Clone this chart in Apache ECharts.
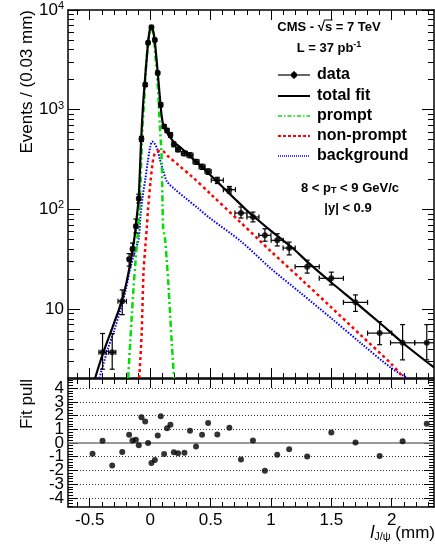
<!DOCTYPE html>
<html><head><meta charset="utf-8">
<script src="https://cdn.jsdelivr.net/npm/echarts@6/dist/echarts.min.js"></script>
<style>html,body{margin:0;padding:0;background:#fff}#c{width:435px;height:550px}</style>
</head><body><div id="c"></div>
<script>
// ---------- data ----------
const dataX = [-0.394,-0.314,-0.231,-0.174,-0.146,-0.118,-0.094,-0.072,-0.041,-0.017,0.011,0.039,0.063,0.088,0.116,0.140,0.168,0.196,0.231,0.284,0.330,0.380,0.430,0.480,0.556,0.656,0.752,0.851,0.950,1.052,1.151,1.300,1.500,1.700,1.900,2.090,2.290];
const dataY = [3.7,3.7,12,31.6,40,68,129,510,1780,4700,6700,5000,2340,1120,680,620,560,450,400,365,350,300,268,240,196,158,92,84,55,49,41,26.7,20.4,11.7,5.75,4.6,4.6];
const dataYLo = [2.5,2.5,8.8,27,35,58,116,480,1720,4600,6560,4880,2270,1070,650,590,530,425,378,345,330,283,252,225,182,146,82,75,48,43,35,23,17.5,9.5,4.4,3.1,3.1];
const dataYHi = [5.7,5.7,15.6,36,46,80,142,540,1840,4800,6840,5120,2410,1170,710,650,590,475,422,385,370,317,284,255,210,170,106,94,64,57,47,31,23.5,13.9,7.5,7.0,7.0];
const dataXErr = [0.03,0.03,0.035,0.013,0.013,0.013,0.013,0.013,0.013,0.013,0.013,0.013,0.013,0.013,0.013,0.013,0.013,0.013,0.018,0.025,0.025,0.025,0.025,0.025,0.05,0.05,0.05,0.05,0.05,0.05,0.05,0.1,0.1,0.1,0.1,0.1,0.1];

const totX = [-0.455,-0.42,-0.38,-0.34,-0.30,-0.26,-0.22,-0.19,-0.16,-0.13,-0.11,-0.095,-0.085,-0.075,-0.06,-0.045,-0.03,-0.015,0.0,0.008,0.02,0.035,0.05,0.065,0.08,0.095,0.11,0.13,0.16,0.2,0.25,0.3,0.35,0.4,0.5,0.6,0.7,0.8,0.9,1.0,1.1,1.2,1.3,1.5,1.7,1.9,2.1,2.35];
const totY = [2.04,2.8,3.9,5.3,7.2,9.8,14,20,31,52,85,130,240,480,1050,1850,3100,5000,6600,6950,6500,5300,3500,2200,1350,870,690,620,540,470,420,370,325,288,220,168,128,98,77,61,49,39,30,18.5,11.7,7.3,4.5,2.6];

const promptX = [-0.182,-0.165,-0.151,-0.138,-0.124,-0.11,-0.094,-0.08,-0.065,-0.05,-0.035,-0.02,-0.005,0.008,0.025,0.045,0.065,0.08,0.091,0.098,0.103,0.108,0.124,0.138,0.151,0.165,0.179,0.198];
const promptY = [2.04,4.6,9,16,27,45,75,180,600,1200,2600,4300,6000,6500,5900,3300,1600,700,430,240,110,65,50,30,18,9,4.6,2.04];

const nonPromptX = [-0.09,-0.07,-0.055,-0.04,-0.028,-0.017,0.003,0.02,0.035,0.05,0.07,0.1,0.15,0.237,0.347,0.5,0.75,1.0,1.25,1.5,1.75,2.0,2.1];
const nonPromptY = [2.04,5.8,23,42,65,102,189,290,355,375,385,385,340,277,213,143,74,38,20,10.4,5.4,2.8,2.04];

const bkgX = [-0.42,-0.35,-0.30,-0.25,-0.20,-0.17,-0.14,-0.12,-0.094,-0.08,-0.06,-0.039,-0.02,0.0,0.017,0.035,0.058,0.08,0.11,0.14,0.2,0.3,0.4,0.5,0.75,1.0,1.25,1.5,1.75,2.0,2.13];
const bkgY = [2.04,4,6,9.5,16,24,33,40,51,87,140,204,300,420,480,460,407,320,240,190,161,128,102,81,48,25.5,14.4,8.1,4.5,2.55,2.04];

const pullX = [-0.477,-0.394,-0.314,-0.231,-0.174,-0.146,-0.118,-0.094,-0.072,-0.041,-0.017,0.011,0.039,0.063,0.088,0.116,0.140,0.168,0.196,0.231,0.284,0.330,0.380,0.430,0.480,0.556,0.656,0.752,0.851,0.950,1.052,1.151,1.300,1.500,1.700,1.900,2.090,2.290];
const pullY = [-0.79,0.16,-1.65,-0.65,0.6,0.18,0.23,-0.16,1.87,1.56,0,-1.46,-1.24,0.55,1.95,-0.8,1.07,1.34,-0.67,-0.75,-0.72,0.89,-0.26,0.6,1.46,0.62,1.12,-1.21,0.18,-2.02,-0.85,-0.45,-0.99,0.77,0.04,-0.94,0.13,1.41];

// ---------- axis ticks ----------
const xMajorTicks = [-0.5, 0, 0.5, 1, 1.5, 2];
const yMajorTicks = [10, 100, 1000, 10000];
const pullTicks = [-4, -3, -2, -1, 0, 1, 2, 3, 4];
const pullLabelsEven = [-4, -2, 0, 2, 4];
const pullLabelsOdd = [-3, -1, 1, 3];
const pullGridLines = [-4, -3, -2, -1, 1, 2, 3, 4];

const xMinorTicks = [];
for (let i = -6; i <= 23; i++) { if (i % 5 !== 0) xMinorTicks.push(i / 10); }
const yMinorTicks = [];
[1, 10, 100, 1000].forEach(d => { for (let k = 2; k <= 9; k++) { if (k * d > 2.1) yMinorTicks.push(k * d); } });
const pullMinorTicks = [];
for (let i = -23; i <= 23; i++) { if (i % 5 !== 0) pullMinorTicks.push(i / 5); }

const X_MIN = -0.68, X_MAX = 2.35, Y_MIN = 2.04, Y_MAX = 10000, P_MIN = -4.67, P_MAX = 4.67;
const FONT = '"Liberation Sans", Arial, Helvetica, sans-serif';

function zip(a, b) { return a.map((v, i) => [v, b[i]]); }

function xAx(grid, pos, ticks, len, line, label) {
  return {
    type: 'value', gridIndex: grid, position: pos, min: X_MIN, max: X_MAX,
    axisLine: { show: line, onZero: false, lineStyle: { color: '#000', width: 1.5 } },
    axisTick: { show: true, inside: true, length: len, customValues: ticks, lineStyle: { color: '#000', width: 1 } },
    axisLabel: label ? { show: true, customValues: ticks, margin: 5, color: '#000', fontSize: 17, fontFamily: FONT,
                          showMinLabel: true, showMaxLabel: true, formatter: v => String(v) } : { show: false },
    splitLine: { show: false }
  };
}
function yLog(pos, ticks, len, line, label) {
  return {
    type: 'log', logBase: 10, gridIndex: 0, position: pos, min: Y_MIN, max: Y_MAX,
    axisLine: { show: line, onZero: false, lineStyle: { color: '#000', width: 1.5 } },
    axisTick: { show: true, inside: true, length: len, customValues: ticks, lineStyle: { color: '#000', width: 1 } },
    axisLabel: label ? {
      show: true, customValues: ticks, margin: 4, color: '#000', showMinLabel: true, showMaxLabel: true,
      formatter: v => { const e = Math.round(Math.log10(v)); return e === 1 ? '{b|10}' : '{b|10}{s|' + e + '}'; },
      rich: { b: { fontSize: 17, fontFamily: FONT, color: '#000' },
              s: { fontSize: 11, fontFamily: FONT, color: '#000', verticalAlign: 'top', padding: [0, 0, 8, 0] } }
    } : { show: false },
    splitLine: { show: false }
  };
}
function yPull(pos, ticks, len, line, labels) {
  return {
    type: 'value', gridIndex: 1, position: pos, min: P_MIN, max: P_MAX,
    axisLine: { show: line, onZero: false, lineStyle: { color: '#000', width: 1.5 } },
    axisTick: ticks ? { show: true, inside: true, length: len, customValues: ticks, lineStyle: { color: '#000', width: 1 } } : { show: false },
    axisLabel: labels ? { show: true, customValues: labels, margin: 4, color: '#000', fontSize: 17, fontFamily: FONT,
                          showMinLabel: true, showMaxLabel: true, formatter: v => String(v) } : { show: false },
    splitLine: { show: false }
  };
}

const errData = dataX.map((x, i) => [x, dataY[i], dataXErr[i], dataYLo[i], dataYHi[i]]);

function renderErr(params, api) {
  const x = api.value(0), y = api.value(1), xe = api.value(2), lo = api.value(3), hi = api.value(4);
  const l = api.coord([x - xe, y]), r = api.coord([x + xe, y]);
  const t = api.coord([x, hi]), b = api.coord([x, lo]);
  const st = { stroke: '#000', lineWidth: 1.2 };
  const cap = 2.5;
  return {
    type: 'group',
    children: [
      { type: 'line', shape: { x1: l[0], y1: l[1], x2: r[0], y2: r[1] }, style: st },
      { type: 'line', shape: { x1: t[0], y1: t[1], x2: b[0], y2: b[1] }, style: st },
      { type: 'line', shape: { x1: t[0] - cap, y1: t[1], x2: t[0] + cap, y2: t[1] }, style: st },
      { type: 'line', shape: { x1: b[0] - cap, y1: b[1], x2: b[0] + cap, y2: b[1] }, style: st },
      { type: 'line', shape: { x1: l[0], y1: l[1] - cap, x2: l[0], y2: l[1] + cap }, style: st },
      { type: 'line', shape: { x1: r[0], y1: r[1] - cap, x2: r[0], y2: r[1] + cap }, style: st }
    ]
  };
}

const GREEN = '#00e000', RED = '#ff0000', BLUE = '#0000ff';
const LX1 = 278, LX2 = 310, LT = 317;
const legendRows = [75, 96, 116, 136, 156];
const legendFont = 'bold 16px ' + FONT;

function legLine(y, color, dash, w) {
  return { type: 'line', shape: { x1: LX1, y1: y, x2: LX2, y2: y }, style: { stroke: color, lineWidth: w, lineDash: dash } };
}
function legText(y, t) {
  return { type: 'text', x: LT, y: y, style: { text: t, font: legendFont, fill: '#000', align: 'left', verticalAlign: 'middle' } };
}

// overline over the "s" of the sqrt(s) header
const headFont = 'bold 13px Liberation Sans';
const mctx = document.createElement('canvas').getContext('2d');
mctx.font = headFont;
const headText = 'CMS - \u221As = 7 TeV';
const headW = mctx.measureText(headText).width;
const preW = mctx.measureText('CMS - \u221A').width;
const sW = mctx.measureText('s').width;
const headX0 = 329 - headW / 2;
const headY = 27;

const option = {
  animation: false,
  backgroundColor: '#fff',
  grid: [
    { left: 68, top: 10, width: 366, height: 368 },
    { left: 68, top: 379, width: 366, height: 128 }
  ],
  xAxis: [
    xAx(0, 'bottom', xMajorTicks, 10, true, false),
    xAx(0, 'bottom', xMinorTicks, 5, false, false),
    xAx(0, 'top', xMajorTicks, 10, true, false),
    xAx(0, 'top', xMinorTicks, 5, false, false),
    xAx(1, 'bottom', xMajorTicks, 9, true, true),
    xAx(1, 'bottom', xMinorTicks, 5, false, false),
    xAx(1, 'top', xMajorTicks, 9, true, false),
    xAx(1, 'top', xMinorTicks, 5, false, false)
  ],
  yAxis: [
    yLog('left', yMajorTicks, 12, true, true),
    yLog('left', yMinorTicks, 6, false, false),
    yLog('right', yMajorTicks, 12, true, false),
    yLog('right', yMinorTicks, 6, false, false),
    yPull('left', pullTicks, 10, true, pullLabelsEven),
    yPull('left', pullMinorTicks, 5, false, null),
    yPull('right', pullTicks, 10, true, null),
    yPull('right', pullMinorTicks, 5, false, null),
    yPull('left', null, 0, false, pullLabelsOdd)
  ],
  series: [
    { name: 'background', type: 'line', xAxisIndex: 0, yAxisIndex: 0, data: zip(bkgX, bkgY), showSymbol: false, smooth: 0.3, z: 2,
      lineStyle: { color: BLUE, width: 2, type: [1.5, 1.5] } },
    { name: 'non-prompt', type: 'line', xAxisIndex: 0, yAxisIndex: 0, data: zip(nonPromptX, nonPromptY), showSymbol: false, smooth: 0.3, z: 2,
      lineStyle: { color: RED, width: 2.5, type: [3, 3] } },
    { name: 'prompt', type: 'line', xAxisIndex: 0, yAxisIndex: 0, data: zip(promptX, promptY), showSymbol: false, smooth: 0.3, z: 2,
      lineStyle: { color: GREEN, width: 2.5, type: [6, 3, 2, 3] } },
    { name: 'total fit', type: 'line', xAxisIndex: 0, yAxisIndex: 0, data: zip(totX, totY), showSymbol: false, smooth: 0.3, z: 3,
      lineStyle: { color: '#000', width: 2.2 } },
    { name: 'data', type: 'custom', xAxisIndex: 0, yAxisIndex: 0, data: errData, renderItem: renderErr, clip: true, z: 4 },
    { name: 'data points', type: 'scatter', xAxisIndex: 0, yAxisIndex: 0, data: zip(dataX, dataY), symbolSize: 6, z: 5,
      itemStyle: { color: '#000' } },
    { name: 'pull', type: 'scatter', xAxisIndex: 4, yAxisIndex: 4, data: zip(pullX, pullY), symbolSize: 6, z: 5,
      itemStyle: { color: '#000' },
      markLine: { silent: true, symbol: 'none', label: { show: false },
        lineStyle: { color: '#000', width: 0.8, type: [1, 2] },
        data: pullGridLines.map(v => ({ yAxis: v })).concat([{ yAxis: 0, lineStyle: { color: '#777', width: 1.5, type: 'solid' } }]) } }
  ],
  graphic: [
    { type: 'text', x: 27, y: 10, rotation: Math.PI / 2,
      style: { text: 'Events / (0.03 mm)', font: '17px ' + FONT, fill: '#000', align: 'right', verticalAlign: 'middle' } },
    { type: 'text', x: 27, y: 379, rotation: Math.PI / 2,
      style: { text: 'Fit pull', font: '17px ' + FONT, fill: '#000', align: 'right', verticalAlign: 'middle' } },
    { type: 'text', x: 435, y: 533,
      style: { text: '{i|l}{sub|J/\u03c8}{n| (mm)}', align: 'right', verticalAlign: 'middle',
        rich: { i: { fontSize: 18, fontStyle: 'italic', fontFamily: FONT, color: '#000' },
                sub: { fontSize: 11, fontFamily: FONT, color: '#000', verticalAlign: 'bottom', padding: [8, 0, 0, 0] },
                n: { fontSize: 17, fontFamily: FONT, color: '#000' } } } },
    { type: 'text', x: headX0, y: headY,
      style: { text: headText, font: 'bold 13px ' + FONT, fill: '#000', align: 'left', verticalAlign: 'middle' } },
    { type: 'line', shape: { x1: headX0 + preW - 1, y1: headY - 7, x2: headX0 + preW + sW + 0.5, y2: headY - 7 },
      style: { stroke: '#000', lineWidth: 1 } },
    { type: 'text', x: 329, y: 48,
      style: { text: '{a|L = 37 pb}{s|-1}', align: 'center', verticalAlign: 'middle',
        rich: { a: { fontSize: 13, fontWeight: 'bold', fontFamily: FONT, color: '#000' },
                s: { fontSize: 9, fontWeight: 'bold', fontFamily: FONT, color: '#000', verticalAlign: 'top', padding: [0, 0, 6, 0] } } } },
    legLine(legendRows[0], '#000', null, 1.2),
    { type: 'circle', shape: { cx: (LX1 + LX2) / 2, cy: legendRows[0], r: 3 }, style: { fill: '#000' } },
    { type: 'line', shape: { x1: (LX1 + LX2) / 2, y1: legendRows[0] - 4, x2: (LX1 + LX2) / 2, y2: legendRows[0] + 4 }, style: { stroke: '#000', lineWidth: 1.2 } },
    legText(legendRows[0], 'data'),
    legLine(legendRows[1], '#000', null, 2),
    legText(legendRows[1], 'total fit'),
    legLine(legendRows[2], GREEN, [4, 2, 1.5, 2], 1.5),
    legText(legendRows[2], 'prompt'),
    legLine(legendRows[3], RED, [3, 2], 1.8),
    legText(legendRows[3], 'non-prompt'),
    legLine(legendRows[4], BLUE, [1, 1], 1.5),
    legText(legendRows[4], 'background'),
    { type: 'text', x: 350, y: 188,
      style: { text: '{a|8 < p}{sub|T}{a| < 9 GeV/c}', align: 'center', verticalAlign: 'middle',
        rich: { a: { fontSize: 13, fontWeight: 'bold', fontFamily: FONT, color: '#000' },
                sub: { fontSize: 9, fontWeight: 'bold', fontFamily: FONT, color: '#000', verticalAlign: 'bottom', padding: [6, 0, 0, 0] } } } },
    { type: 'text', x: 348, y: 208,
      style: { text: '|y| < 0.9', font: 'bold 13px ' + FONT, fill: '#000', align: 'center', verticalAlign: 'middle' } }
  ]
};

const chart = echarts.init(document.getElementById('c'), null, { renderer: 'canvas' });
chart.setOption(option);
</script>
</body></html>
